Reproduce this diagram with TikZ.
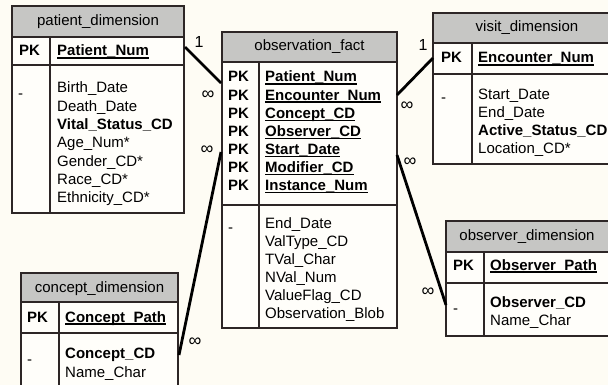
\documentclass[tikz,border=0pt]{standalone}
\usepackage{fontspec}
\setmainfont{Liberation Sans}

\definecolor{paper}{RGB}{254,252,244}
\definecolor{cellfill}{RGB}{255,254,250}
\definecolor{headfill}{RGB}{198,198,196}
\definecolor{rulecol}{RGB}{45,38,38}

% bold key name with a heavy underline
\newsavebox\keynamebox
\newcommand\keyname[1]{\sbox\keynamebox{\bfseries #1}\rlap{\rule[-2.6pt]{\wd\keynamebox}{1.2pt}}\usebox\keynamebox}

% table frame: name, left, right, divider x, top, head bottom, key bottom, bottom
\newcommand\ertable[8]{%
  \node[headbox, minimum width={(#3-#2)*1pt}, minimum height={(#6-#5)*1pt}, anchor=north west] (#1-head) at (#2,#5) {};
  \node[cellbox, minimum width={(#3-#2)*1pt}, minimum height={(#7-#6)*1pt}, anchor=north west] (#1-key) at (#2,#6) {};
  \node[cellbox, minimum width={(#3-#2)*1pt}, minimum height={(#8-#7)*1pt}, anchor=north west] (#1-body) at (#2,#7) {};
  \draw[rulecol, line width=1.3pt] (#4,#6) -- (#4,#8);
}

\begin{document}
\begin{tikzpicture}[x=1pt, y=-1pt,
  headbox/.style={draw=rulecol, line width=1.3pt, fill=headfill, inner sep=0pt, outer sep=0pt},
  cellbox/.style={draw=rulecol, line width=1.3pt, fill=cellfill, inner sep=0pt, outer sep=0pt},
  txt/.style={inner sep=0pt, anchor=base west, font=\fontsize{15}{18}\selectfont},
  ttl/.style={inner sep=0pt, anchor=base, font=\fontsize{15}{18}\selectfont},
  pk/.style={txt, font=\fontsize{15}{18}\selectfont\bfseries},
  one/.style={inner sep=0pt, anchor=center, font=\fontsize{16}{18}\selectfont},
  many/.style={inner sep=0pt, anchor=center, font=\fontsize{18}{18}\selectfont},
  conn/.style={line width=2.8pt, black, line cap=butt}]

\useasboundingbox (0,0) rectangle (608,385);
\fill[paper] (0,0) rectangle (608,385);

% ---------- patient_dimension ----------
\ertable{pat}{12}{184}{50}{6}{37}{65}{213}
\node[ttl] (pat-title) at (98,26) {patient\_dimension};
\node[pk] (pat-pk) at (19,56) {PK};
\node[txt] (pat-key) at (57,56) {\keyname{Patient\_Num}};
\node[txt] (pat-dash) at (18,99) {-};
\foreach \f [count=\i from 0] in {Birth\_Date, Death\_Date, {\textbf{Vital\_Status\_CD}},
    Age\_Num*, Gender\_CD*, Race\_CD*, Ethnicity\_CD*}
  \node[txt] (pat-f\i) at (57,{93+18.3*\i}) {\f};

% ---------- observation_fact ----------
\ertable{obs}{222}{397}{259}{32}{62}{205}{328}
\node[ttl] (obs-title) at (309.5,51) {observation\_fact};
\foreach \k [count=\i from 0] in {Patient\_Num, Encounter\_Num, Concept\_CD, Observer\_CD,
    Start\_Date, Modifier\_CD, Instance\_Num} {
  \node[pk] (obs-pk\i) at (228,{82+18.1*\i}) {PK};
  \node[txt] (obs-key\i) at (265,{82+18.1*\i}) {\keyname{\k}};
}
\node[txt] (obs-dash) at (228,233) {-};
\foreach \f [count=\i from 0] in {End\_Date, ValType\_CD, TVal\_Char, NVal\_Num,
    ValueFlag\_CD, Observation\_Blob}
  \node[txt] (obs-f\i) at (265,{228+18.1*\i}) {\f};

% ---------- visit_dimension ----------
\ertable{vis}{433}{621}{472}{13}{43}{74}{164}
\node[ttl] (vis-title) at (527,32) {visit\_dimension};
\node[pk] (vis-pk) at (441,63) {PK};
\node[txt] (vis-key) at (478,63) {\keyname{Encounter\_Num}};
\node[txt] (vis-dash) at (441,103) {-};
\foreach \f [count=\i from 0] in {Start\_Date, End\_Date, {\textbf{Active\_Status\_CD}}, Location\_CD*}
  \node[txt] (vis-f\i) at (478,{100+18*\i}) {\f};

% ---------- observer_dimension ----------
\ertable{obr}{446}{609}{484}{221}{252}{283}{336}
\node[ttl] (obr-title) at (527,240) {observer\_dimension};
\node[pk] (obr-pk) at (453,270) {PK};
\node[txt] (obr-key) at (490,270) {\keyname{Observer\_Path}};
\node[txt] (obr-dash) at (453,313) {-};
\node[txt] (obr-f0) at (490,307) {\textbf{Observer\_CD}};
\node[txt] (obr-f1) at (490,325) {Name\_Char};

% ---------- concept_dimension ----------
\ertable{con}{21}{178}{59}{273}{302}{333}{396}
\node[ttl] (con-title) at (99.5,292) {concept\_dimension};
\node[pk] (con-pk) at (27,322) {PK};
\node[txt] (con-key) at (65,322) {\keyname{Concept\_Path}};
\node[txt] (con-dash) at (27,364) {-};
\node[txt] (con-f0) at (65,358) {\textbf{Concept\_CD}};
\node[txt] (con-f1) at (65,377) {Name\_Char};

% ---------- connector end points on the table edges ----------
\coordinate (pat-out) at (185,47);
\coordinate (obs-in-pat) at (221,83);
\coordinate (obs-out-con) at (221,152);
\coordinate (con-in) at (179,355);
\coordinate (obs-out-vis) at (397,95);
\coordinate (vis-in) at (433,58);
\coordinate (obs-out-obr) at (397,155);
\coordinate (obr-in) at (446,305);

\draw[conn] (pat-out) -- (obs-in-pat);
\draw[conn] (obs-out-con) -- (con-in);
\draw[conn] (obs-out-vis) -- (vis-in);
\draw[conn] (obs-out-obr) -- (obr-in);

% ---------- multiplicities ----------
\node[one] (m-pat-1) at (199,42) {1};
\node[many] (m-pat-n) at (208,95) {∞};
\node[many] (m-con-n1) at (207,150) {∞};
\node[many] (m-con-n2) at (195,342) {∞};
\node[one] (m-vis-1) at (423,45) {1};
\node[many] (m-vis-n) at (407,106) {∞};
\node[many] (m-obr-n1) at (410,162) {∞};
\node[many] (m-obr-n2) at (428,292) {∞};

\end{tikzpicture}
\end{document}
